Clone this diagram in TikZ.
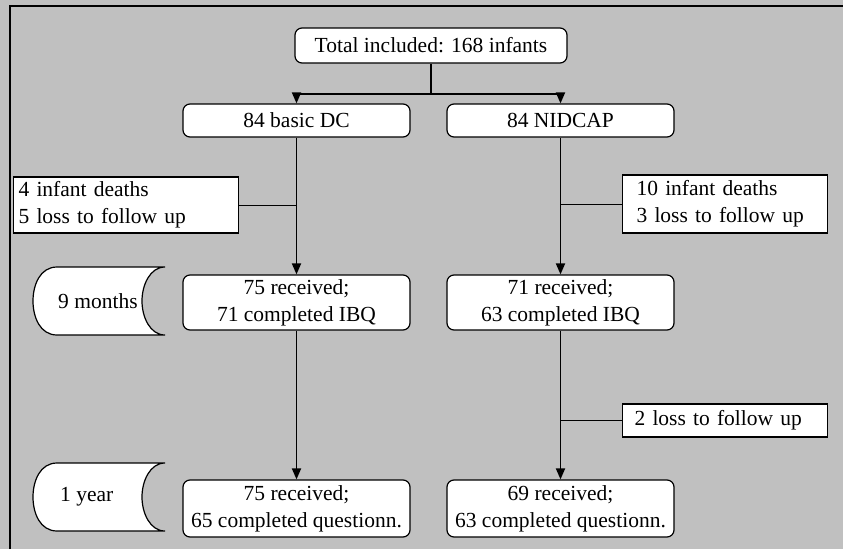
\documentclass[tikz,border=0pt]{standalone}
\usepackage{fontspec}
\setmainfont{Liberation Serif}
\usetikzlibrary{arrows.meta}
\definecolor{bggray}{HTML}{C0C0C0}
\begin{document}
\begin{tikzpicture}[x=1pt,y=-1pt,
  every node/.style={font=\fontsize{21.5}{27}\selectfont, inner sep=0pt},
  rbox/.style={draw, fill=white, rounded corners=7pt, line width=1.2pt, align=center, minimum width=227pt},
  sidebox/.style={draw, fill=white, line width=1.2pt, align=left, inner xsep=#1, anchor=west},
  arr/.style={line width=1.8pt, -{Triangle[length=11pt,width=9pt]}},
  conn/.style={line width=1.8pt},
  thinconn/.style={line width=1pt},
  period/.style={draw, fill=white, line width=1.2pt}]
\useasboundingbox (0,0) rectangle (843,549);
\fill[bggray] (0,0) rectangle (843,549);
\draw[line width=2.2pt] (10,549) -- (10,6) -- (843,6);

% main boxes
\node[rbox, minimum width=272pt, minimum height=35pt] (total) at (431,45.5) {Total included: 168 infants};
\node[rbox, minimum height=33pt] (dc) at (296.5,120.5) {84 basic DC};
\node[rbox, minimum height=33pt] (nid) at (560.5,120.5) {84 NIDCAP};
\node[rbox, minimum height=55pt] (r1) at (296.5,302.5) {75 received;\\71 completed IBQ};
\node[rbox, minimum height=55pt] (r2) at (560.5,302.5) {71 received;\\63 completed IBQ};
\node[rbox, minimum height=57pt] (b1) at (296.5,508.5) {75 received;\\65 completed questionn.};
\node[rbox, minimum height=57pt] (b2) at (560.5,508.5) {69 received;\\63 completed questionn.};

% side boxes
\node[sidebox=5pt, text width=215pt, minimum height=56pt] (s1) at (13,205) {4 infant deaths\\5 loss to follow up};
\node[sidebox=14pt, text width=177pt, minimum height=58pt] (s2) at (622,204) {10 infant deaths\\3 loss to follow up};
\node[sidebox=12pt, text width=181pt, minimum height=33pt] (s3) at (622,420.5) {2 loss to follow up};

% period shapes
\draw[period] (57,267) .. controls (40,267) and (33,285) .. (33,301)
  .. controls (33,317) and (40,335) .. (57,335) -- (165,335)
  .. controls (150,335) and (142,317) .. (142,301)
  .. controls (142,285) and (150,267) .. (165,267) -- cycle;
\node[anchor=west] (m9) at (58,301) {9 months};
\draw[period] (57,463) .. controls (40,463) and (33,481) .. (33,497)
  .. controls (33,513) and (40,531) .. (57,531) -- (165,531)
  .. controls (150,531) and (142,513) .. (142,497)
  .. controls (142,481) and (150,463) .. (165,463) -- cycle;
\node[anchor=west] (y1) at (60,497) {1 year};

% connectors
\coordinate (sp) at (431,94);
\draw[conn] (total.south) -- (sp);
\draw[conn] (dc.north |- sp) -- (nid.north |- sp);
\draw[arr] (dc.north |- sp) -- (dc.north);
\draw[arr] (nid.north |- sp) -- (nid.north);
\draw[arr] (dc.south) -- (r1.north);
\draw[arr] (nid.south) -- (r2.north);
\draw[arr] (r1.south) -- (b1.north);
\draw[arr] (r2.south) -- (b2.north);
\draw[thinconn] (s1.east) -- (s1.east -| dc.south);
\draw[thinconn] (s2.west) -- (s2.west -| nid.south);
\draw[thinconn] (s3.west) -- (s3.west -| r2.south);
\end{tikzpicture}
\end{document}
